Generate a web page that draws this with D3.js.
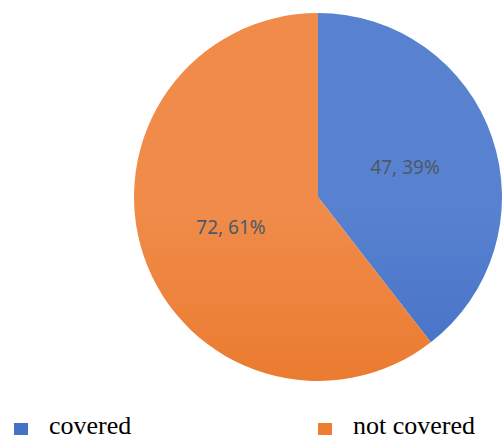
<!DOCTYPE html>
<html><head><meta charset="utf-8">
<script src="https://cdn.jsdelivr.net/npm/d3@7"></script>
<style>body{margin:0;background:#fff}svg{display:block}
text.leg{font-family:"Liberation Serif", serif !important;}
</style>
</head><body>
<script>
const categories = ["covered", "not covered"];
const values = [47, 72];
const percents = ["39%", "61%"];

const W = 502, H = 439;
const cx = 318, cy = 197, R = 184;
const svg = d3.select("body").append("svg").attr("width", W).attr("height", H);

const legX = [14, 318];
const solid = ["#4472c4", "#ed7d31"];
const leg = svg.append("g");
categories.forEach((c, i) => {
  leg.append("rect").attr("x", legX[i]).attr("y", 423).attr("width", 14).attr("height", 12).attr("fill", solid[i]);
  leg.append("text").attr("class", "leg").attr("x", legX[i] + 35).attr("y", 434)
    .attr("font-family", "Liberation Serif")
    .attr("font-size", 26).attr("fill", "#000").text(c);
});

const defs = svg.append("defs");
const grads = [["#5882d0", "#2e5dbc"], ["#f08b4a", "#e46a13"]];
grads.forEach((g, i) => {
  const lg = defs.append("linearGradient").attr("id", "g" + i)
    .attr("gradientUnits", "userSpaceOnUse")
    .attr("x1", 0).attr("y1", cy - R).attr("x2", 0).attr("y2", cy + R);
  lg.append("stop").attr("offset", "0").attr("stop-color", g[0]);
  lg.append("stop").attr("offset", "1").attr("stop-color", g[1]);
});

const pie = d3.pie().sort(null).value(d => d)(values);
const arc = d3.arc().innerRadius(0).outerRadius(R);
const gPie = svg.append("g").attr("transform", `translate(${cx},${cy})`);
gPie.selectAll("path").data(pie).join("path")
  .attr("d", arc).attr("fill", (d, i) => `url(#g${i})`);

const labelArc = d3.arc().innerRadius(R * 0.5).outerRadius(R * 0.5);
gPie.selectAll("text").data(pie).join("text")
  .attr("x", d => labelArc.centroid(d)[0])
  .attr("y", d => labelArc.centroid(d)[1])
  .attr("text-anchor", "middle").attr("dy", "0.36em")
  .attr("font-family", "Noto Sans")
  .attr("font-size", 19).attr("fill", "#4e5968")
  .text((d, i) => `${values[i]}, ${percents[i]}`);
</script>
</body></html>
